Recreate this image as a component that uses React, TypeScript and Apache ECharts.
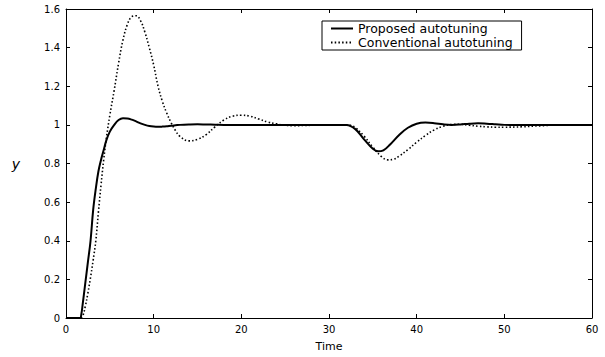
import React, { useEffect, useRef } from "react";
import * as echarts from "echarts";

const proposedTime = [0, 1, 1.6, 1.75, 1.9, 2.2, 2.5, 2.8, 3.1, 3.4, 3.7, 4.0, 4.3, 4.6, 5.0, 5.5, 6.0, 6.5, 7.0, 7.5, 8.0, 8.5, 9.0, 9.5, 10.0, 10.5, 11.0, 11.5, 12.0, 12.5, 13.0, 14.0, 15.0, 16.0, 17.0, 18.0, 20, 25, 30, 32, 33, 34, 35, 35.6, 36.2, 37, 38, 39, 40, 41, 42, 43, 44, 45, 46, 47, 48, 49, 50, 52, 54, 56, 58, 60];
const proposedY = [0, 0, 0, 0.02, 0.07, 0.18, 0.29, 0.4, 0.56, 0.67, 0.76, 0.82, 0.87, 0.92, 0.965, 1.0, 1.025, 1.034, 1.033, 1.027, 1.018, 1.008, 1.0, 0.994, 0.991, 0.99, 0.991, 0.993, 0.996, 0.998, 1.0, 1.002, 1.003, 1.002, 1.001, 1.0, 1.0, 1.0, 1.0, 1.0, 0.978, 0.925, 0.876, 0.863, 0.868, 0.9, 0.948, 0.985, 1.006, 1.012, 1.009, 1.003, 1.0, 1.002, 1.006, 1.008, 1.006, 1.003, 1.0, 0.999, 1.0, 1.0, 1.0, 1.0];

const conventionalTime = [0, 1, 1.6, 1.9, 2.2, 2.5, 2.8, 3.1, 3.4, 3.7, 4.0, 4.3, 4.6, 5.0, 5.5, 6.0, 6.5, 7.0, 7.5, 8.0, 8.5, 9.0, 9.5, 10.0, 10.5, 11.0, 11.5, 12.0, 12.5, 13.0, 14.0, 15.0, 16.0, 17, 18, 19, 20, 21, 22, 23, 24, 25, 26, 28, 30, 31, 32, 32.5, 33, 34, 35, 36, 36.7, 37.4, 38, 39, 40, 41, 42, 43, 44, 45, 46, 47, 48, 49, 50, 52, 54, 56, 58, 60];
const conventionalY = [0, 0, 0, 0.01, 0.06, 0.13, 0.21, 0.3, 0.4, 0.55, 0.69, 0.82, 0.93, 1.05, 1.18, 1.32, 1.44, 1.52, 1.56, 1.565, 1.54, 1.48, 1.4, 1.31, 1.2, 1.12, 1.06, 1.01, 0.97, 0.94, 0.917, 0.925, 0.95, 0.99, 1.025, 1.045, 1.05, 1.045, 1.03, 1.015, 1.005, 0.998, 0.996, 0.998, 1.0, 1.0, 1.0, 0.997, 0.986, 0.942, 0.885, 0.835, 0.819, 0.822, 0.838, 0.872, 0.91, 0.945, 0.974, 0.993, 1.002, 1.003, 0.998, 0.993, 0.99, 0.988, 0.988, 0.99, 0.995, 0.999, 1.0, 1.0];

const xTicks = [0, 10, 20, 30, 40, 50, 60];
const yTicks = [0, 0.2, 0.4, 0.6, 0.8, 1, 1.2, 1.4, 1.6];

const seriesNames = ["Proposed autotuning", "Conventional autotuning"];

const FONT = "DejaVu Sans";

export default function App() {
  const ref = useRef<HTMLDivElement>(null);
  useEffect(() => {
    if (!ref.current) return;
    const chart = echarts.init(ref.current, null, { renderer: "svg" });
    const axisLine = { show: true, onZero: false, lineStyle: { color: "#000", width: 1 } };
    const tick = { show: true, inside: true, length: 4, lineStyle: { color: "#000" } };
    const label = { color: "#000", fontFamily: FONT, fontSize: 10 };
    chart.setOption({
      animation: false,
      backgroundColor: "#fff",
      grid: { left: 66, right: 13, top: 9, bottom: 37, containLabel: false },
      legend: {
        show: true,
        orient: "vertical",
        left: 322,
        top: 21,
        itemWidth: 22,
        itemHeight: 10,
        itemGap: 1,
        padding: [1, 9, 1, 8],
        borderColor: "#000",
        borderWidth: 1,
        borderRadius: 0,
        backgroundColor: "#fff",
        textStyle: { color: "#000", fontFamily: FONT, fontSize: 12.5 },
        data: seriesNames,
      },
      xAxis: [
        {
          type: "value",
          min: 0,
          max: 60,
          interval: 10,
          axisLine,
          axisTick: tick,
          axisLabel: { ...label, margin: 6, formatter: (v: number) => (xTicks.includes(v) ? String(v) : "") },
          splitLine: { show: false },
          name: "Time",
          nameLocation: "middle",
          nameGap: 23,
          nameTextStyle: { color: "#000", fontFamily: FONT, fontSize: 11 },
        },
        {
          type: "value",
          position: "top",
          min: 0,
          max: 60,
          interval: 10,
          axisLine,
          axisTick: tick,
          axisLabel: { show: false },
          splitLine: { show: false },
        },
      ],
      yAxis: [
        {
          type: "value",
          min: 0,
          max: 1.6,
          interval: 0.2,
          axisLine,
          axisTick: tick,
          axisLabel: {
            ...label,
            margin: 6,
            formatter: (v: number) => {
              const r = Math.round(v * 10) / 10;
              return yTicks.includes(r) ? String(r) : "";
            },
          },
          splitLine: { show: false },
          name: "y",
          nameLocation: "middle",
          nameGap: 46,
          nameRotate: 0,
          nameTextStyle: { color: "#000", fontFamily: FONT, fontSize: 14, fontStyle: "italic" },
        },
        {
          type: "value",
          position: "right",
          min: 0,
          max: 1.6,
          interval: 0.2,
          axisLine,
          axisTick: tick,
          axisLabel: { show: false },
          splitLine: { show: false },
        },
      ],
      series: [
        {
          name: seriesNames[0],
          type: "line",
          data: proposedTime.map((t, i) => [t, proposedY[i]]),
          symbol: "circle",
          showSymbol: false,
          smooth: 0.4,
          lineStyle: { color: "#000", width: 2, type: "solid" },
          itemStyle: { color: "rgba(0,0,0,0)", borderWidth: 0 },
        },
        {
          name: seriesNames[1],
          type: "line",
          data: conventionalTime.map((t, i) => [t, conventionalY[i]]),
          symbol: "circle",
          showSymbol: false,
          smooth: 0.4,
          lineStyle: { color: "#000", width: 1.6, type: [1.5, 2.2] },
          itemStyle: { color: "rgba(0,0,0,0)", borderWidth: 0 },
        },
      ],
    });
    return () => chart.dispose();
  }, []);
  return (
    <div
      ref={ref}
      style={{ position: "fixed", left: 0, top: 0, width: 605, height: 357, background: "#fff" }}
    />
  );
}
